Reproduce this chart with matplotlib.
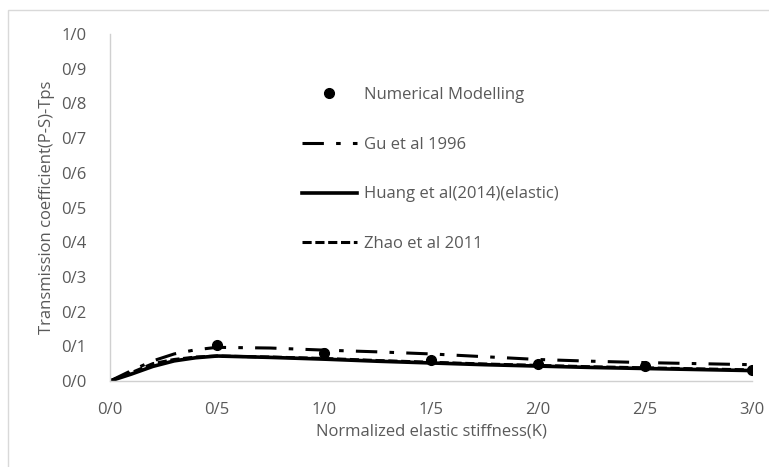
import numpy as np
import matplotlib.pyplot as plt
from matplotlib.patches import Rectangle
from matplotlib.ticker import FuncFormatter

# ---- data ----
k_num = [0.5, 1.0, 1.5, 2.0, 2.5, 3.0]
tps_num = [0.105, 0.080, 0.060, 0.049, 0.043, 0.032]

k_line = [0.0, 0.1, 0.2, 0.3, 0.4, 0.5, 0.75, 1.0, 1.25, 1.5, 1.75, 2.0, 2.25, 2.5, 2.75, 3.0]
tps_gu = [0.0, 0.030, 0.058, 0.078, 0.090, 0.097, 0.095, 0.089, 0.084, 0.078, 0.070, 0.062, 0.057, 0.053, 0.050, 0.047]
tps_huang = [0.0, 0.020, 0.042, 0.058, 0.067, 0.072, 0.068, 0.063, 0.057, 0.052, 0.047, 0.043, 0.039, 0.036, 0.033, 0.030]
tps_zhao = [0.0, 0.024, 0.050, 0.062, 0.069, 0.072, 0.069, 0.065, 0.059, 0.054, 0.049, 0.045, 0.041, 0.038, 0.035, 0.032]

x_ticks = [0.0, 0.5, 1.0, 1.5, 2.0, 2.5, 3.0]
y_ticks = [0.0, 0.1, 0.2, 0.3, 0.4, 0.5, 0.6, 0.7, 0.8, 0.9, 1.0]

TXT = '#595959'
FS = 12
plt.rcParams['font.family'] = ['Open Sans', 'DejaVu Sans']

fig = plt.figure(figsize=(7.69, 4.67), dpi=100)
# light frame round the chart area
fig.patches.append(Rectangle((8 / 769, -0.05), 1.1, (467 - 10) / 467 + 0.05,
                             transform=fig.transFigure, fill=False,
                             edgecolor='#d9d9d9', linewidth=1))

ax = fig.add_axes([110 / 769, 1 - 381 / 467, (752 - 110) / 769, (381 - 34) / 467])

ax.plot(k_num, tps_num, 'o', color='black', markersize=7, label='Numerical Modelling', zorder=5)
ax.plot(k_line, tps_gu, color='black', lw=2.2, linestyle=(0, (7, 4, 1.5, 4)), label='Gu et al 1996')
ax.plot(k_line, tps_huang, color='black', lw=2.6, linestyle='-', label='Huang et al(2014)(elastic)')
ax.plot(k_line, tps_zhao, color='black', lw=2.2, linestyle=(0, (3, 1.2)), label='Zhao et al 2011')

ax.set_xlim(0, 3.0)
ax.set_ylim(0, 1.0)
ax.set_xticks(x_ticks)
ax.set_yticks(y_ticks)
slash = FuncFormatter(lambda v, _: f'{v:.1f}'.replace('.', '/'))
ax.xaxis.set_major_formatter(slash)
ax.yaxis.set_major_formatter(slash)
ax.tick_params(length=0, labelsize=FS, labelcolor=TXT)
ax.tick_params(axis='x', pad=15)
ax.tick_params(axis='y', pad=17)

for side in ['top', 'right']:
    ax.spines[side].set_visible(False)
for side in ['left', 'bottom']:
    ax.spines[side].set_color('#d0d0d0')
    ax.spines[side].set_linewidth(1)

ax.set_xlabel('Normalized elastic stiffness(K)', fontsize=FS, color=TXT, labelpad=4)
ax.set_ylabel('Transmission coefficient(P-S)-Tps', fontsize=FS, color=TXT, labelpad=4)

leg = ax.legend(loc='upper left', bbox_to_anchor=(0.299, 0.847), frameon=False,
                fontsize=FS, handlelength=3.3, handletextpad=0.4, labelspacing=2.02,
                borderaxespad=0, borderpad=0)
for t in leg.get_texts():
    t.set_color(TXT)

fig.savefig('out.png', dpi=100)
